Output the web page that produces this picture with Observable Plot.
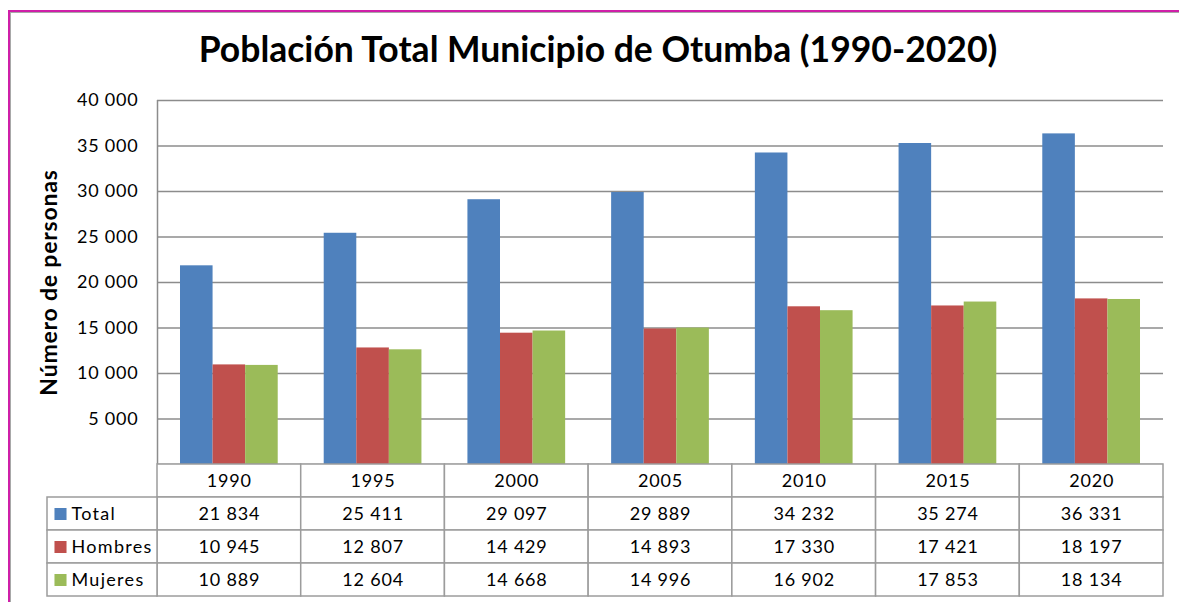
<!DOCTYPE html>
<html><head><meta charset="utf-8">
<script src="https://cdn.jsdelivr.net/npm/d3@7"></script>
<script src="https://cdn.jsdelivr.net/npm/@observablehq/plot@0.6"></script>
<style>
body{margin:0;background:#fff;color:#000;font-family:Lato,sans-serif}
#root{position:relative;width:1179px;height:602px;overflow:hidden;background:#fff}
#frame{position:absolute;left:8px;top:10px;right:-4px;bottom:-4px;border-top:2.5px solid #cf1fa8;border-left:2.5px solid #cf1fa8}
#frame::after{content:"";position:absolute;left:0;top:0;right:0;bottom:0;border-top:1.5px solid #a8a8a8;border-left:1.5px solid #a8a8a8}
#title{position:absolute;left:0;width:1196px;top:27px;text-align:center;font-family:Lato,sans-serif;font-weight:bold;font-size:35.5px;white-space:nowrap}
.layer{position:absolute}
</style></head>
<body>
<div id="root">
  <div id="frame"></div>
  <div id="title">Población Total Municipio de Otumba (1990-2020)</div>
  <div id="bg" class="layer" style="left:0;top:0"></div>
  <div id="fg" class="layer" style="left:0;top:0"></div>
  <div id="tbl" class="layer" style="left:0;top:463px"></div>
  <div id="lbl" class="layer" style="left:46px;top:496px"></div>
</div>
<script>
const years = ["1990", "1995", "2000", "2005", "2010", "2015", "2020"];
const series = ["Total", "Hombres", "Mujeres"];
const total = [21834, 25411, 29097, 29889, 34232, 35274, 36331];
const hombres = [10945, 12807, 14429, 14893, 17330, 17421, 18197];
const mujeres = [10889, 12604, 14668, 14996, 16902, 17853, 18134];
const colors = ["#4F81BD", "#C0504D", "#9BBB59"];
const yTicks = [5000, 10000, 15000, 20000, 25000, 30000, 35000, 40000];
const yLabel = "Número de personas";

const valuesBySeries = [total, hombres, mujeres];
const rows = years.flatMap((y, i) => series.map((s, j) => ({year: y, series: s, value: valuesBySeries[j][i]})));
const fmt = d => d3.format(",")(d).replace(/,/g, " ");

const W = 1179, M = {top: 100, bottom: 1, left: 157, right: 16};
const grid = "#8c8c8c", cellStroke = "#9c9c9c";
const baseStyle = {fontFamily: "Lato, sans-serif", fontSize: "18px", color: "#000", background: "none", overflow: "visible"};

// background: gridlines, axis
document.getElementById("bg").append(Plot.plot({
  width: W, height: 465, marginTop: M.top, marginBottom: M.bottom, marginLeft: M.left, marginRight: M.right,
  style: {...baseStyle, letterSpacing: "0.8px"},
  x: {domain: [0, 1], axis: null},
  y: {domain: [0, 40000], ticks: yTicks, tickFormat: fmt, tickSize: 0, tickPadding: 19, label: null},
  marks: [
    Plot.ruleY([0, ...yTicks], {stroke: grid, strokeWidth: 1.5}),
    Plot.ruleX([0], {stroke: grid, strokeWidth: 1.5}),
    Plot.text([yLabel], {text: d => d, frameAnchor: "left", textAnchor: "middle", rotate: -90, dx: -108, fontWeight: "bold", fontSize: 23})
  ]
}));

// foreground: grouped bars
document.getElementById("fg").append(Plot.plot({
  width: W, height: 465, marginTop: M.top, marginBottom: M.bottom, marginLeft: M.left, marginRight: M.right,
  style: baseStyle,
  facet: {data: rows, x: "year"},
  fx: {domain: years, paddingInner: 0.32, paddingOuter: 0.16, round: false, axis: null, label: null},
  x: {domain: series, padding: 0, round: false, axis: null},
  y: {domain: [0, 40000], axis: null},
  color: {domain: series, range: colors},
  marks: [
    Plot.barY(rows, {x: "series", y: "value", fill: "series"})
  ]
}));

// data table (years columns)
const tableRows = ["Año", ...series];
const cells = years.flatMap((y, i) => [
  {year: y, row: "Año", label: y},
  ...series.map((s, j) => ({year: y, row: s, label: fmt(valuesBySeries[j][i])}))
]);
document.getElementById("tbl").append(Plot.plot({
  width: W, height: 135, marginTop: 1, marginBottom: 2, marginLeft: M.left, marginRight: M.right,
  style: {...baseStyle, letterSpacing: "0.8px"},
  x: {domain: years, padding: 0, round: false, axis: null},
  y: {domain: tableRows, padding: 0, round: false, axis: null},
  marks: [
    Plot.cell(cells, {x: "year", y: "row", fill: "white", stroke: cellStroke, strokeWidth: 1.5}),
    Plot.text(cells, {x: "year", y: "row", text: "label", fontSize: 18})
  ]
}));

// data table (legend column)
document.getElementById("lbl").append(Plot.plot({
  width: 113, height: 102, marginTop: 1, marginBottom: 2, marginLeft: 1, marginRight: 2,
  style: {...baseStyle, letterSpacing: "1.3px"},
  y: {domain: series, padding: 0, round: false, axis: null},
  color: {domain: series, range: colors},
  marks: [
    Plot.cell(series, {y: d => d, fill: "white", stroke: cellStroke, strokeWidth: 1.5}),
    Plot.dot(series, {y: d => d, fill: d => d, symbol: "square", r: 6.8, frameAnchor: "left", dx: 13}),
    Plot.text(series, {y: d => d, text: d => d, frameAnchor: "left", textAnchor: "start", dx: 24, fontSize: 18})
  ]
}));
</script>
</body></html>
